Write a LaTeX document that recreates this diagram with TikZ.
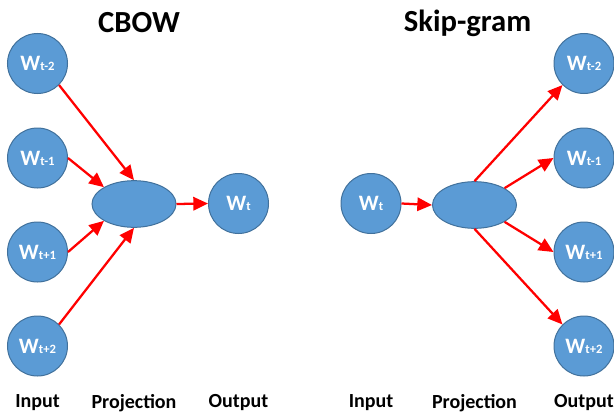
\documentclass[tikz,border=0pt]{standalone}
\usepackage{fontspec}
\setmainfont{Carlito}
\usetikzlibrary{shapes.geometric,arrows.meta}
\definecolor{wordblue}{HTML}{5B9BD5}
\definecolor{wordedge}{HTML}{41719C}
\newcommand{\wlabel}[1]{{\fontsize{16.5}{16.5}\selectfont W}{\fontsize{9.5}{9.5}\selectfont #1}}
\begin{document}
\begin{tikzpicture}
		[	x=0.75pt,y=-0.75pt,
		word/.style={circle,draw=wordedge,fill=wordblue,line width=0.75pt,minimum size=45pt,inner sep=0pt,text=white,font=\bfseries},
		proj/.style={ellipse,draw=wordedge,fill=wordblue,line width=0.75pt,minimum width=63pt,minimum height=35pt,inner sep=0pt},
		title/.style={font=\fontsize{23}{23}\selectfont\bfseries},
		plain/.style={font=\fontsize{15}{15}\selectfont\bfseries},
		link/.style={draw=red,line width=1.7pt,-{Triangle[length=11pt,width=10pt]}}
		]
		\useasboundingbox (0,0) rectangle (614,414);
		% CBOW
		\node[title] (cbowtitle) at (139,23){CBOW};
		\node[word] (in2) at (37.5,63.5){\wlabel{t-2}};
		\node[word] (in1) at (37.5,158){\wlabel{t-1}};
		\node[word] (in3) at (37.5,252){\wlabel{t+1}};
		\node[word] (in4) at (37.5,346){\wlabel{t+2}};
		\node[proj] (cproj) at (134,204){};
		\node[word] (cout) at (238.5,203.5){\wlabel{t}};
\draw[link] (in2.south east) -- (cproj.north);
\draw[link] (in1.east) -- (cproj.north west);
\draw[link] (in3.east) -- (cproj.south west);
\draw[link] (in4.north east) -- (cproj.south);
\draw[link] (cproj.east) -- (cout.west);
		\node[plain] (cinput) at (37.5,403){Input};
		\node[plain] (cprojection) at (134,403){Projection};
		\node[plain] (coutput) at (238.5,403){Output};
		% Skip-gram
		\node[title] (skiptitle) at (467.5,23){Skip-gram};
		\node[word] (sin) at (371,203.5){\wlabel{t}};
		\node[proj] (sproj) at (474.5,205){};
		\node[word] (out2) at (584,63.5){\wlabel{t-2}};
		\node[word] (out1) at (584,158){\wlabel{t-1}};
		\node[word] (out3) at (584,252){\wlabel{t+1}};
		\node[word] (out4) at (584,346){\wlabel{t+2}};
\draw[link] (sin.east) -- (sproj.west);
\draw[link] (sproj.north) -- (out2.south west);
\draw[link] (sproj.north east) -- (out1.west);
\draw[link] (sproj.south east) -- (out3.west);
\draw[link] (sproj.south) -- (out4.north west);
		\node[plain] (sinput) at (371,403){Input};
		\node[plain] (sprojection) at (474.5,403){Projection};
		\node[plain] (soutput) at (584,403){Output};
	\end{tikzpicture}
\end{document}
